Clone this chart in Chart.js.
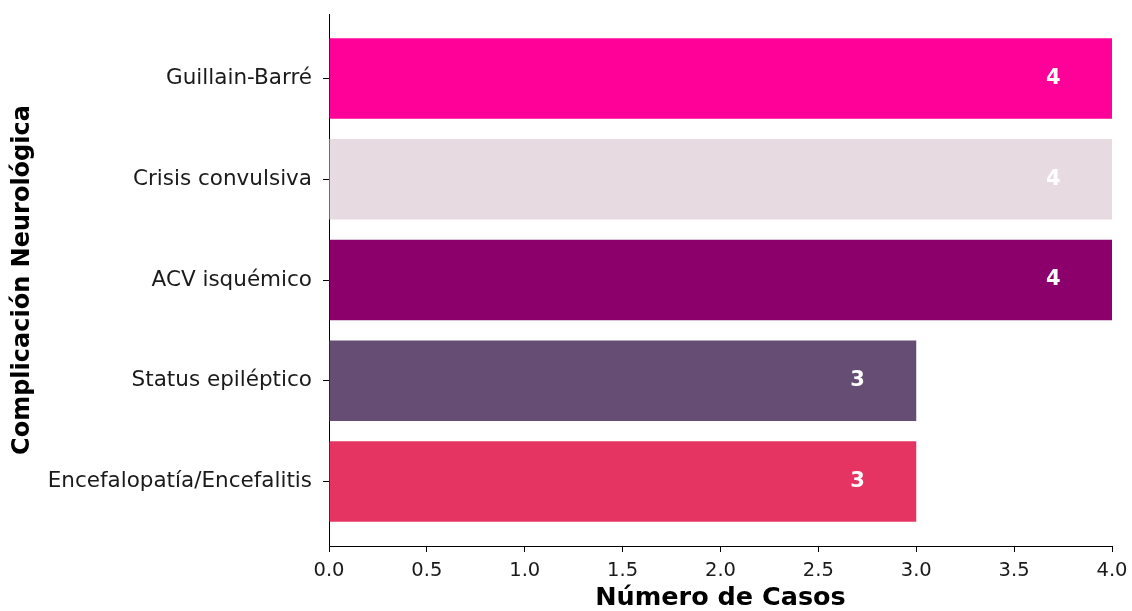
<!DOCTYPE html>
<html>
<head>
<meta charset="utf-8">
<title>Complicaciones neurológicas</title>
<script src="https://cdn.jsdelivr.net/npm/chart.js@4/dist/chart.umd.min.js"></script>
<style>
	html, body { margin: 0; padding: 0; background: #fff; }
	#wrap { width: 1132px; height: 611px; }
</style>
</head>
<body>
<div id="wrap"><canvas id="complicacionesChart" width="1132" height="611"></canvas></div>
<script>
// Casos por complicación neurológica
const complicaciones = [
	"Guillain-Barré",
	"Crisis convulsiva",
	"ACV isquémico",
	"Status epiléptico",
	"Encefalopatía/Encefalitis",
];
const casos = [4, 4, 4, 3, 3];
const colores = ["#FF0099", "#E7DAE1", "#8B006B", "#664D74", "#E63462"];
const ticksCasos = [0, 0.5, 1, 1.5, 2, 2.5, 3, 3.5, 4];

const FONT = "'DejaVu Sans', sans-serif";

// Value text inside each bar, a bit before its end
const etiquetasValor = {
	id: "etiquetasValor",
	afterDatasetsDraw(chart) {
		const ctx = chart.ctx;
		const xScale = chart.scales.x;
		const yScale = chart.scales.y;
		ctx.save();
		ctx.fillStyle = "#fff";
		ctx.font = "bold 21px " + FONT;
		ctx.textAlign = "center";
		ctx.textBaseline = "middle";
		casos.forEach((v, i) => {
			ctx.fillText(String(v), xScale.getPixelForValue(v - 0.3), yScale.getPixelForValue(i));
		});
		ctx.restore();
	},
};

const ctx = document.getElementById("complicacionesChart").getContext("2d");
new Chart(ctx, {
	type: "bar",
	data: {
		datasets: [
			{
				data: casos.map((v, i) => ({ x: v, y: i })),
				backgroundColor: colores,
				borderWidth: 0,
				barPercentage: 0.8,
				categoryPercentage: 1,
			},
		],
	},
	options: {
		indexAxis: "y",
		responsive: false,
		animation: false,
		layout: { padding: { top: 14, right: 20, left: 0, bottom: 0 } },
		plugins: {
			legend: { display: false },
			tooltip: { enabled: false },
		},
		scales: {
			x: {
				type: "linear",
				min: 0,
				max: 4,
				afterBuildTicks(scale) {
					scale.ticks = ticksCasos.map((v) => ({ value: v }));
				},
				afterFit(scale) {
					scale.height = 65;
					scale.paddingLeft = 0;
					scale.paddingRight = 0;
				},
				border: { display: true, color: "#000", width: 1 },
				grid: { drawOnChartArea: false, drawTicks: true, tickLength: 6, color: "#000" },
				ticks: {
					color: "#1a1a1a",
					padding: 7,
					font: { family: FONT, size: 19.5 },
					callback: (v) => Number(v).toFixed(1),
				},
				title: {
					display: true,
					text: "Número de Casos",
					color: "#000",
					font: { family: FONT, size: 25.5, weight: "bold", lineHeight: 1 },
					padding: { top: 0, bottom: 0 },
				},
			},
			y: {
				type: "linear",
				reverse: true,
				offset: false,
				min: -0.64,
				max: 4.64,
				afterBuildTicks(scale) {
					scale.ticks = complicaciones.map((c, i) => ({ value: i }));
				},
				afterFit(scale) {
					scale.width = 329;
					scale.paddingTop = 0;
					scale.paddingBottom = 0;
				},
				border: { display: true, color: "#000", width: 1 },
				grid: { offset: false, drawOnChartArea: false, drawTicks: true, tickLength: 6, color: "#000" },
				ticks: {
					color: "#1a1a1a",
					padding: 11,
					font: { family: FONT, size: 21.5 },
					callback: (v) => complicaciones[v] ?? "",
				},
				title: {
					display: true,
					text: "Complicación Neurológica",
					color: "#000",
					font: { family: FONT, size: 24, weight: "bold", lineHeight: 1 },
					padding: { top: 11, bottom: 0 },
				},
			},
		},
	},
	plugins: [etiquetasValor],
});
</script>
</body>
</html>
